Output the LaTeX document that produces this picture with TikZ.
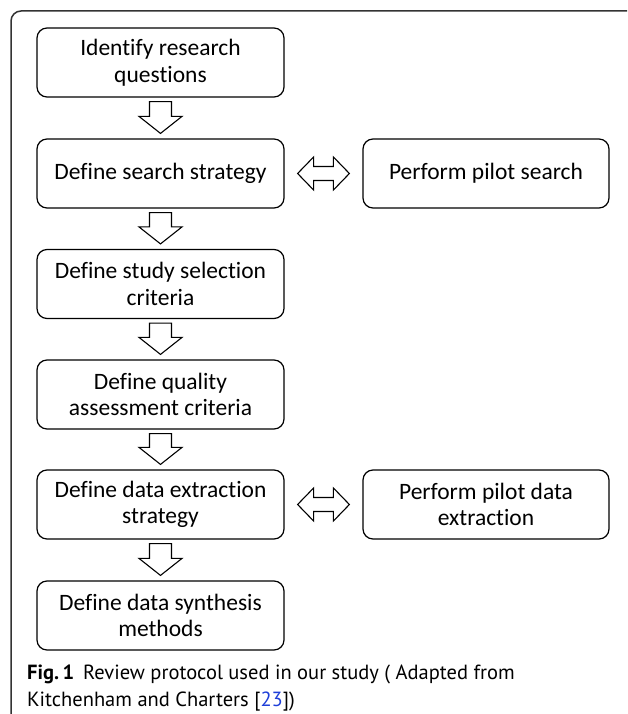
\documentclass[tikz,border=0pt]{standalone}
\usepackage{fontspec}
\setmainfont{Carlito}[Ligatures=NoCommon]
\newfontfamily\capfont{PT Sans}
\usetikzlibrary{calc}
\definecolor{framegray}{HTML}{333333}
\definecolor{refblue}{HTML}{1F3FD8}
\tikzset{
  box/.style={draw=black, line width=1.2pt, rounded corners=10pt, minimum width=247pt, minimum height=69pt,
    align=center, inner sep=0pt, font=\fontsize{23.5}{26.5}\selectfont},
  blockarrow/.style={draw=black, line width=1.1pt, fill=white, line join=miter},
}
\begin{document}
\begin{tikzpicture}[x=1pt,y=-1pt]
\useasboundingbox (0,0) rectangle (627,714);
% outer frame
\draw[framegray, line width=1.5pt, rounded corners=10pt] (11,714) -- (11,11) -- (627,11);

\node[box] (b1) at (160.5,62.5) {Identify research\\questions};
\node[box] (b2) at (160.5,173.5) {Define search strategy};
\node[box] (b3) at (160.5,284) {Define study selection\\criteria};
\node[box] (b4) at (160.5,394.5) {Define quality\\assessment criteria};
\node[box] (b5) at (160.5,504.5) {Define data extraction\\strategy};
\node[box] (b6) at (160.5,615.5) {Define data synthesis\\methods};
\node[box, minimum width=246pt] (p1) at (486,173.5) {Perform pilot search};
\node[box, minimum width=246pt] (p2) at (486,504.5) {Perform pilot data\\extraction};

% down block arrows
\foreach \a/\b in {b1/b2, b2/b3, b3/b4, b4/b5, b5/b6}{
  \draw[blockarrow] ($(\a.south)+(-11,4)$) -- ($(\a.south)+(11,4)$) -- ($(\b.north)+(11,-22)$)
    -- ($(\b.north)+(21.5,-22)$) -- ($(\b.north)+(0,-5)$) -- ($(\b.north)+(-21.5,-22)$)
    -- ($(\b.north)+(-11,-22)$) -- cycle;
}
% double block arrows
\foreach \a/\b in {b2/p1, b5/p2}{
  \draw[blockarrow] ($(\a.east)+(13,0)$) -- ($(\a.east)+(29,-16.5)$) -- ($(\a.east)+(29,-7)$)
    -- ($(\b.west)+(-29,-7)$) -- ($(\b.west)+(-29,-16.5)$) -- ($(\b.west)+(-13,0)$)
    -- ($(\b.west)+(-29,16.5)$) -- ($(\b.west)+(-29,7)$) -- ($(\a.east)+(29,7)$)
    -- ($(\a.east)+(29,16.5)$) -- cycle;
}

% caption
\node[anchor=base west, inner sep=0pt, font=\capfont\fontsize{20.5}{27}\selectfont] (cap1) at (27,679)
  {\textbf{Fig.\,1}\hspace{9pt}Review protocol used in our study ( Adapted from};
\node[anchor=base west, inner sep=0pt, font=\capfont\fontsize{20.5}{27}\selectfont] (cap2) at (27,706)
  {Kitchenham and Charters [\textcolor{refblue}{23}])};
\end{tikzpicture}
\end{document}
